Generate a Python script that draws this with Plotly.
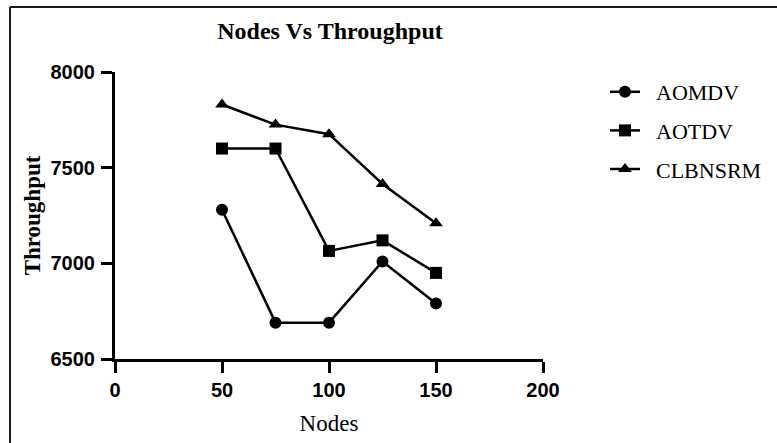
import plotly.graph_objects as go

# data
nodes = [50, 75, 100, 125, 150]
aomdv = [7280, 6690, 6690, 7010, 6790]
aotdv = [7600, 7600, 7065, 7120, 6950]
clbnsrm = [7830, 7725, 7675, 7415, 7210]

series_names = ['AOMDV', 'AOTDV', 'CLBNSRM']
series_values = [aomdv, aotdv, clbnsrm]
series_symbols = ['circle', 'square', 'triangle-up']
series_sizes = [12, 12, 12]

W, H = 777, 443
L, R, T, B = 115, 234, 72, 84
plot_w = W - L - R
plot_h = H - T - B


def px_x(p):
    return (p - L) / plot_w


def px_y(p):
    return (H - B - p) / plot_h


fig = go.Figure()

for i, (name, vals) in enumerate(zip(series_names, series_values)):
    fig.add_trace(go.Scatter(
        x=nodes,
        y=vals,
        # nbsp padding widens the gap between legend symbol and label
        name='\u00a0\u00a0' + name,
        mode='lines+markers',
        legendgroup=name,
        line=dict(color='black', width=2.5),
        marker=dict(symbol=series_symbols[i], size=series_sizes[i], color='black'),
        cliponaxis=False,
    ))

# image frame (top and left edges only)
fig.add_shape(type='line', xref='paper', yref='paper',
              x0=px_x(10), y0=px_y(7), x1=px_x(W + 5), y1=px_y(7),
              line=dict(color='#1a1a1a', width=2))
fig.add_shape(type='line', xref='paper', yref='paper',
              x0=px_x(10), y0=px_y(7), x1=px_x(10), y1=px_y(H + 5),
              line=dict(color='#1a1a1a', width=2))

fig.update_layout(
    width=W,
    height=H,
    margin=dict(l=L, r=R, t=T, b=B, autoexpand=False),
    paper_bgcolor='white',
    plot_bgcolor='white',
    showlegend=True,
    title=dict(
        text='<b>Nodes Vs Throughput</b>',
        font=dict(family='Liberation Serif', size=24, color='black'),
        x=px_x(330), xanchor='center', xref='paper',
        y=1 - 31 / H, yanchor='middle',
    ),
    legend=dict(
        x=px_x(605), y=px_y(71), xanchor='left', yanchor='top',
        font=dict(family='Liberation Serif', size=22, color='black'),
        tracegroupgap=7,
        traceorder='grouped',
        bgcolor='rgba(0,0,0,0)',
    ),
    xaxis=dict(
        range=[0, 200],
        tickvals=[0, 50, 100, 150, 200],
        showgrid=False,
        zeroline=False,
        showline=True,
        linecolor='black',
        linewidth=3,
        ticks='outside',
        ticklen=11,
        tickwidth=3,
        tickcolor='black',
        tickfont=dict(family='Liberation Sans', size=20, color='black', weight='bold'),
        title=dict(text='Nodes', font=dict(family='Liberation Serif', size=23, color='black'), standoff=15),
    ),
    yaxis=dict(
        range=[6500, 8000],
        tickvals=[6500, 7000, 7500, 8000],
        showgrid=False,
        zeroline=False,
        showline=True,
        linecolor='black',
        linewidth=3,
        ticks='outside',
        ticklen=11,
        tickwidth=3,
        tickcolor='black',
        ticklabelstandoff=2,
        tickfont=dict(family='Liberation Sans', size=20, color='black', weight='bold'),
        title=dict(text='<b>Throughput</b>', font=dict(family='Liberation Serif', size=23, color='black'), standoff=4),
    ),
)

fig.write_html('out.html', config={'displayModeBar': False},
               post_script="document.body.style.margin='0';")
